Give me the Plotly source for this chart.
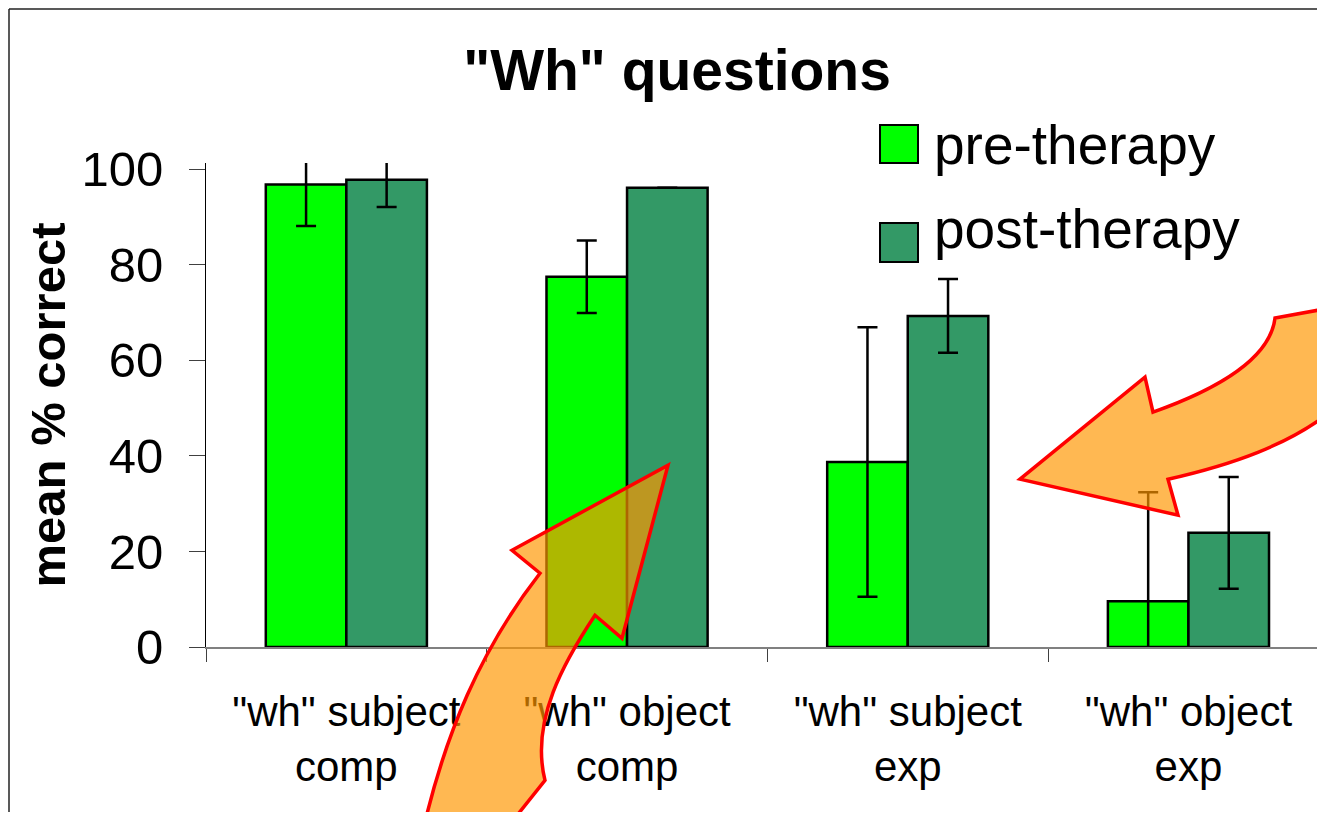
import plotly.graph_objects as go

# ---- data ----
categories = ['"wh" subject<br>comp', '"wh" object<br>comp', '"wh" subject<br>exp', '"wh" object<br>exp']
series_names = ["pre-therapy", "post-therapy"]
pre_values = [96.8, 77.5, 38.7, 9.6]
pre_err = [8.7, 7.6, 28.2, 22.8]
post_values = [97.8, 96.1, 69.3, 23.9]
post_err = [5.7, 0.0, 7.7, 11.7]
y_ticks = [0, 20, 40, 60, 80, 100]
title_text = '"Wh" questions'
y_title = "mean % correct"

# ---- layout geometry (page has an 8px body margin) ----
OFF = 8
W, H = 1309, 804
ML, MT = 198, 155
PLOT_BOTTOM = 638.7
MB = H - PLOT_BOTTOM
MR = 0
PW, PH = W - ML - MR, H - MT - MB
FONT = "Arial, Liberation Sans, Helvetica, sans-serif"
PRE_COLOR = "#00FF00"
POST_COLOR = "#339966"


def PX(x):  # screen px -> paper
    return (x - OFF - ML) / PW


def PY(y):
    return 1 - (y - OFF - MT) / PH


fig = go.Figure()
fig.add_trace(go.Bar(
    x=categories, y=pre_values, name=series_names[0],
    marker=dict(color=PRE_COLOR, line=dict(color="black", width=2.5)),
    error_y=dict(type="data", array=pre_err, visible=True, color="black", thickness=2.5, width=10),
))
fig.add_trace(go.Bar(
    x=categories, y=post_values, name=series_names[1],
    marker=dict(color=POST_COLOR, line=dict(color="black", width=2.5)),
    error_y=dict(type="data", array=post_err, visible=True, color="black", thickness=2.5, width=10),
))


def arrow_path(pts):
    s = ""
    for cmd, coords in pts:
        if cmd == "Z":
            s += " Z"
            continue
        parts = [f"{PX(x):.5f},{PY(y):.5f}" for (x, y) in coords]
        s += f" {cmd} " + " ".join(parts)
    return s.strip()


arrow1 = arrow_path([
    ("M", [(423, 830)]),
    ("C", [(445, 735), (480, 650), (540, 573)]),
    ("L", [(512, 550)]),
    ("L", [(668, 465)]),
    ("L", [(622, 638)]),
    ("L", [(595, 615)]),
    ("C", [(565, 660), (530, 720), (545, 780)]),
    ("L", [(505, 830)]),
    ("Z", []),
])
arrow2 = arrow_path([
    ("M", [(1335, 307)]),
    ("L", [(1275, 318)]),
    ("C", [(1270, 360), (1215, 390), (1153, 412)]),
    ("L", [(1145, 377)]),
    ("L", [(1020, 479)]),
    ("L", [(1178, 515)]),
    ("L", [(1168, 479)]),
    ("C", [(1230, 465), (1290, 445), (1335, 408)]),
    ("Z", []),
])

ARROW_FILL = "rgba(255,150,0,0.68)"
FRAME = dict(color="#222", width=1.5)
shapes = [
    # outer frame: left and top edges (right/bottom fall outside the picture)
    dict(type="line", xref="paper", yref="paper", x0=PX(9), x1=PX(9), y0=PY(830), y1=PY(9),
         line=FRAME, layer="below"),
    dict(type="line", xref="paper", yref="paper", x0=PX(9), x1=PX(1330), y0=PY(9), y1=PY(9),
         line=FRAME, layer="below"),
    # legend swatches
    dict(type="rect", xref="paper", yref="paper", x0=PX(880), x1=PX(918), y0=PY(163), y1=PY(125),
         line=dict(color="black", width=2), fillcolor=PRE_COLOR, layer="above"),
    dict(type="rect", xref="paper", yref="paper", x0=PX(880), x1=PX(918), y0=PY(262), y1=PY(223),
         line=dict(color="black", width=2), fillcolor=POST_COLOR, layer="above"),
    # arrows
    dict(type="path", xref="paper", yref="paper", path=arrow1,
         fillcolor=ARROW_FILL, line=dict(color="#FF0000", width=3.5), layer="above"),
    dict(type="path", xref="paper", yref="paper", path=arrow2,
         fillcolor=ARROW_FILL, line=dict(color="#FF0000", width=3.5), layer="above"),
]

annotations = [
    dict(xref="paper", yref="paper", x=PX(932), y=PY(145), xanchor="left", yanchor="middle",
         text=series_names[0], showarrow=False, font=dict(family=FONT, size=55, color="black")),
    dict(xref="paper", yref="paper", x=PX(932), y=PY(229), xanchor="left", yanchor="middle",
         text=series_names[1], showarrow=False, font=dict(family=FONT, size=55, color="black")),
]

fig.update_layout(
    width=W, height=H,
    margin=dict(l=ML, r=MR, t=MT, b=MB, pad=0),
    paper_bgcolor="white", plot_bgcolor="white",
    barmode="group", bargap=0.426, bargroupgap=0,
    showlegend=False,
    font=dict(family=FONT, color="black"),
    title=dict(text=f"<b>{title_text}</b>", x=PX(677), xref="paper", xanchor="center",
               y=1 - (70 - OFF) / H, yref="container", yanchor="middle",
               font=dict(family=FONT, size=57, color="black")),
    shapes=shapes,
    annotations=annotations,
)

fig.update_xaxes(
    range=[-0.5, -0.5 + PW / 280.7], showline=True, linecolor="#808080", linewidth=1.5,
    ticks="outside", tickson="boundaries", ticklen=13, tickcolor="#404040", tickwidth=1,
    tickfont=dict(family=FONT, size=42, color="black"), ticklabelstandoff=27,
    showgrid=False, zeroline=False,
)
fig.update_yaxes(
    range=[0, 101.3], tickvals=y_ticks, showline=True, linecolor="#000", linewidth=1,
    ticks="outside", ticklen=16, tickcolor="#404040", tickwidth=1,
    tickfont=dict(family=FONT, size=49, color="black"), ticklabelstandoff=16,
    title=dict(text=f"<b>{y_title}</b>", font=dict(family=FONT, size=49, color="black"), standoff=0),
    showgrid=False, zeroline=False,
)

fig.write_html("out.html")
